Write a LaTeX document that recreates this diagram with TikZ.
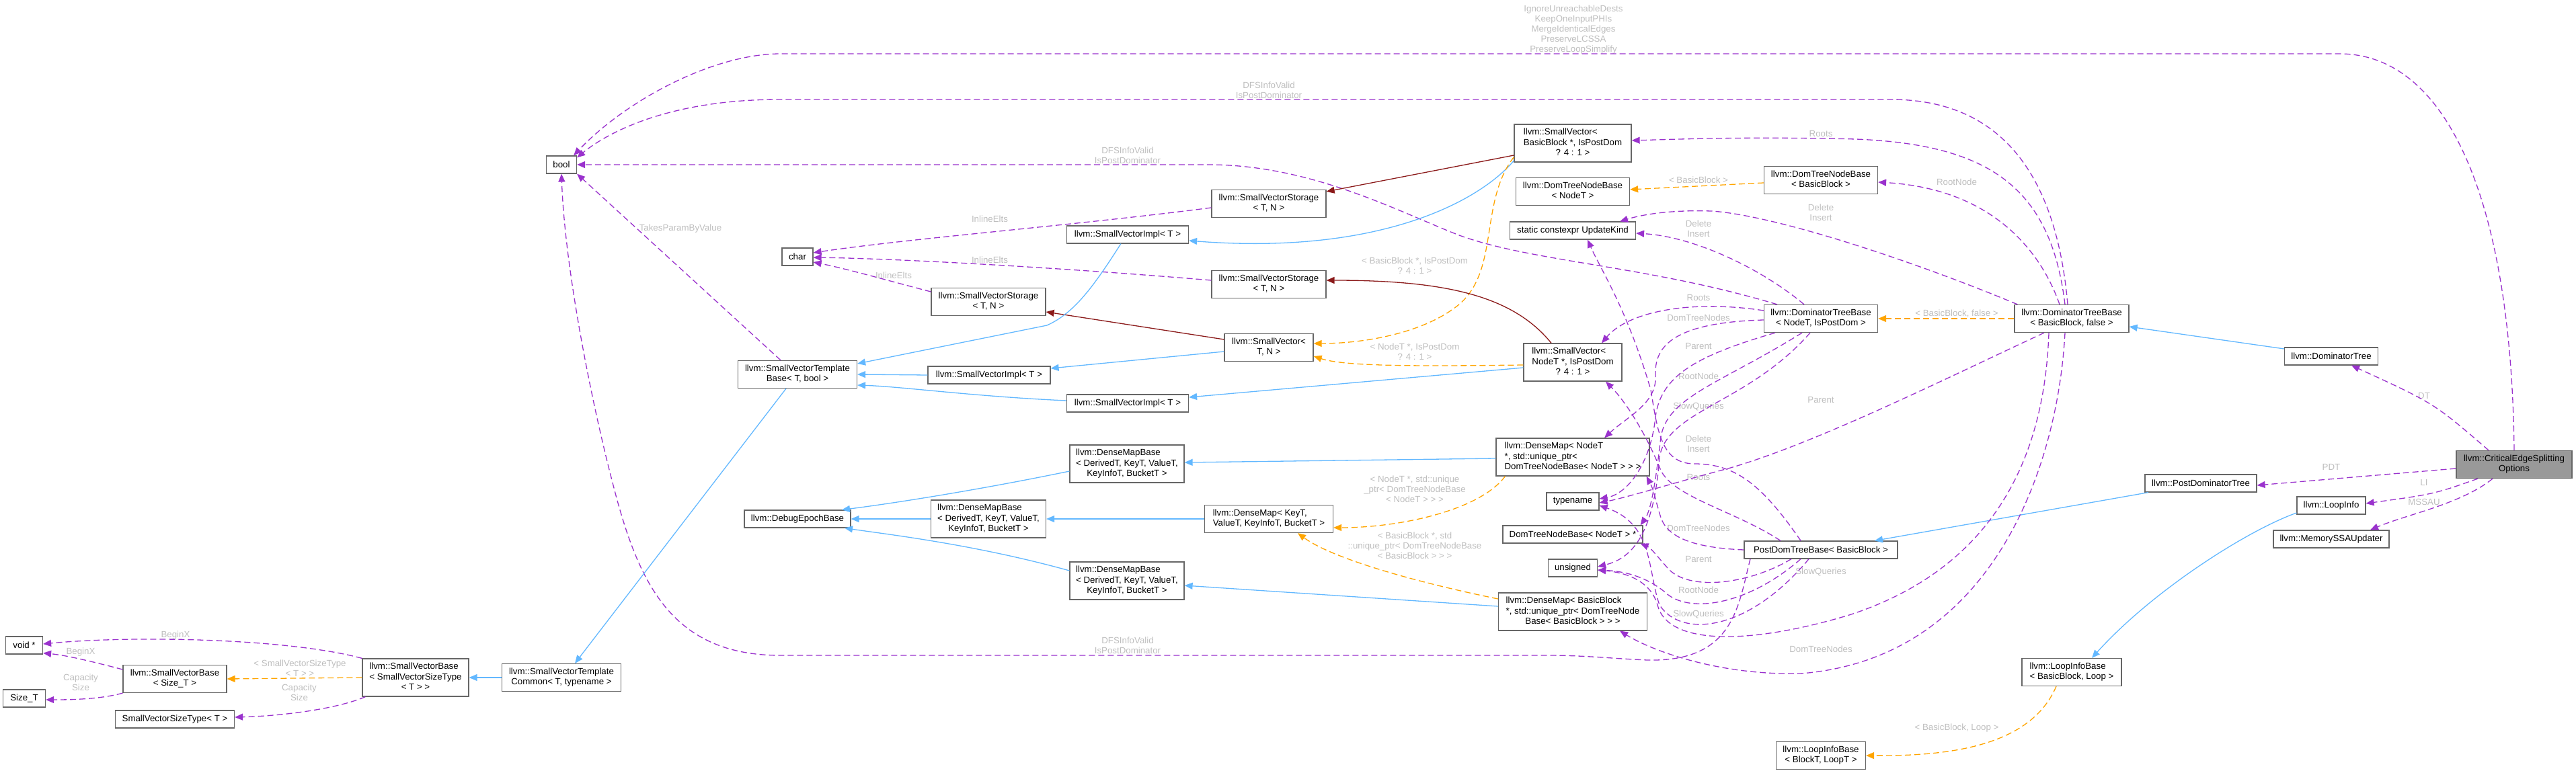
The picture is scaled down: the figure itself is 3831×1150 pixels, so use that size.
\documentclass[tikz,border=0pt]{standalone}
\usepackage{fontspec}
\setmainfont{Liberation Sans}
\usetikzlibrary{arrows.meta}
\definecolor{cuse}{HTML}{9A32CD}
\definecolor{ctmp}{HTML}{FFA500}
\definecolor{cinh}{HTML}{63B8FF}
\definecolor{cprv}{HTML}{8B1A1A}
\definecolor{clbl}{HTML}{BEBEBE}
\definecolor{cbrd}{HTML}{666666}
\definecolor{cfil}{HTML}{999999}
\newcommand{\dxl}[1]{\begin{tabular}{@{}l@{}}#1\end{tabular}}
\newcommand{\dxc}[1]{\multicolumn{1}{@{}c@{}}{#1}}
\newcommand{\mybox}[5]{\node[cls,minimum width=#3pt,minimum height=#4pt] (#1) at (#2) {#5};}
\newcommand{\mylbl}[3]{\node[lbl] (#1) at (#2) {#3};}
\tikzset{
  cls/.style={draw=cbrd, line width=1.2pt, fill=white, inner sep=0pt, font=\fontsize{13.3}{15.2}\selectfont},
  lbl/.style={text=clbl, align=center, inner sep=0pt, font=\fontsize{13.3}{15.2}\selectfont},
  usg/.style={draw=cuse, line width=1.3pt, dash pattern=on 9pt off 5pt, -{Triangle[length=12pt,width=10pt]}},
  tmpl/.style={draw=ctmp, line width=1.3pt, dash pattern=on 9pt off 5pt, -{Triangle[length=12pt,width=10pt]}},
  inh/.style={draw=cinh, line width=1.3pt, -{Triangle[length=12pt,width=10pt]}},
  prv/.style={draw=cprv, line width=1.3pt, -{Triangle[length=12pt,width=10pt]}}
}
\begin{document}
\begin{tikzpicture}[x=1pt,y=-1pt]
\useasboundingbox (0,0) rectangle (3831,1150);
% nodes
\mybox{bool}{835,245}{45}{26}{bool}
\mybox{char}{1186,382}{46}{26}{char}
\mybox{svtb}{1186,557}{177}{41}{\dxl{llvm::SmallVectorTemplate\\\dxc{Base< T, bool >}}}
\mybox{voidp}{36,960}{55}{26}{void *}
\mybox{sizet}{36,1039}{63}{26}{Size\_T}
\mybox{svbsz}{260,1010}{154}{41}{\dxl{llvm::SmallVectorBase\\\dxc{< Size\_T >}}}
\mybox{svst}{260,1070}{177}{26}{SmallVectorSizeType< T >}
\mybox{svbst}{618,1008}{158}{56}{\dxl{llvm::SmallVectorBase\\< SmallVectorSizeType\\\dxc{< T > >}}}
\mybox{svtc}{835,1008}{177}{41}{\dxl{llvm::SmallVectorTemplate\\\dxc{Common< T, typename >}}}
\mybox{deb}{1186,772}{158}{26}{llvm::DebugEpochBase}
\mybox{svbb}{2339,213}{174}{56}{\dxl{llvm::SmallVector<\\BasicBlock *, IsPostDom\\\dxc{? 4 : 1 >}}}
\mybox{dtnbnt}{2339,285}{169}{41}{\dxl{llvm::DomTreeNodeBase\\\dxc{< NodeT >}}}
\mybox{uk}{2339,343}{187}{26}{static constexpr UpdateKind}
\mybox{svsa}{1887,303}{170}{41}{\dxl{llvm::SmallVectorStorage\\\dxc{< T, N >}}}
\mybox{svia}{1677,349}{181}{26}{llvm::SmallVectorImpl< T >}
\mybox{svsb}{1887,423}{170}{41}{\dxl{llvm::SmallVectorStorage\\\dxc{< T, N >}}}
\mybox{svsc}{1470,449}{170}{41}{\dxl{llvm::SmallVectorStorage\\\dxc{< T, N >}}}
\mybox{svtn}{1887,517}{132}{41}{\dxl{llvm::SmallVector<\\\dxc{T, N >}}}
\mybox{svib}{1471,558}{182}{26}{llvm::SmallVectorImpl< T >}
\mybox{svic}{1677,600}{181}{26}{llvm::SmallVectorImpl< T >}
\mybox{svnt}{2339,539}{146}{56}{\dxl{llvm::SmallVector<\\\dxc{NodeT *, IsPostDom}\\\dxc{? 4 : 1 >}}}
\mybox{dmba}{1676,690}{170}{56}{\dxl{llvm::DenseMapBase\\< DerivedT, KeyT, ValueT,\\\dxc{KeyInfoT, BucketT >}}}
\mybox{dmbb}{1470,772}{171}{56}{\dxl{llvm::DenseMapBase\\< DerivedT, KeyT, ValueT,\\\dxc{KeyInfoT, BucketT >}}}
\mybox{dmbc}{1676,864}{170}{56}{\dxl{llvm::DenseMapBase\\< DerivedT, KeyT, ValueT,\\\dxc{KeyInfoT, BucketT >}}}
\mybox{dmk}{1887,772}{191}{41}{\dxl{llvm::DenseMap< KeyT,\\ValueT, KeyInfoT, BucketT >}}
\mybox{dmnt}{2339,680}{228}{56}{\dxl{llvm::DenseMap< NodeT\\{*}, std::unique\_ptr<\\DomTreeNodeBase< NodeT > > >}}
\mybox{tn}{2339,746}{78}{26}{typename}
\mybox{dtnbp}{2339,795}{208}{26}{DomTreeNodeBase< NodeT > *}
\mybox{uns}{2339,845}{73}{26}{unsigned}
\mybox{dmbbb}{2339,910}{221}{56}{\dxl{llvm::DenseMap< BasicBlock\\{*}, std::unique\_ptr< DomTreeNode\\\dxc{Base< BasicBlock > > >}}}
\mybox{dtnbbb}{2708,268}{169}{41}{\dxl{llvm::DomTreeNodeBase\\\dxc{< BasicBlock >}}}
\mybox{dtbnt}{2708,474}{169}{41}{\dxl{llvm::DominatorTreeBase\\\dxc{< NodeT, IsPostDom >}}}
\mybox{dtbbb}{3081,474}{170}{41}{\dxl{llvm::DominatorTreeBase\\\dxc{< BasicBlock, false >}}}
\mybox{dt}{3467,530}{139}{26}{llvm::DominatorTree}
\node[cls,fill=cfil,minimum width=172pt,minimum height=41pt] (ceso) at (3739,691) {\dxl{llvm::CriticalEdgeSplitting\\\dxc{Options}}};
\mybox{pdt}{3273,719}{166}{26}{llvm::PostDominatorTree}
\mybox{li}{3467,752}{102}{26}{llvm::LoopInfo}
\mybox{mssau}{3467,802}{172}{26}{llvm::MemorySSAUpdater}
\mybox{pdtb}{2708,818}{228}{26}{PostDomTreeBase< BasicBlock >}
\mybox{libb}{3081,1000}{148}{41}{\dxl{llvm::LoopInfoBase\\< BasicBlock, Loop >}}
\mybox{libt}{2708,1124}{133}{41}{\dxl{llvm::LoopInfoBase\\\dxc{< BlockT, LoopT >}}}
% labels
\mylbl{la}{2340,44}{IgnoreUnreachableDests\\KeepOneInputPHIs\\MergeIdenticalEdges\\PreserveLCSSA\\PreserveLoopSimplify}
\mylbl{lb}{1887,134}{DFSInfoValid\\IsPostDominator}
\mylbl{lc}{1677,231}{DFSInfoValid\\IsPostDominator}
\mylbl{ld}{1677,960}{DFSInfoValid\\IsPostDominator}
\mylbl{le}{1012,340}{TakesParamByValue}
\mylbl{lf}{1472,326}{InlineElts}
\mylbl{lg}{1472,387}{InlineElts}
\mylbl{lh}{1329,410}{InlineElts}
\mylbl{li9}{2104,395}{< BasicBlock *, IsPostDom\\? 4 : 1 >}
\mylbl{lj}{2104,523}{< NodeT *, IsPostDom\\? 4 : 1 >}
\mylbl{lk}{2104,728}{< NodeT *, std::unique\\\_ptr< DomTreeNodeBase\\< NodeT > > >}
\mylbl{ll}{2104,812}{< BasicBlock *, std\\::unique\_ptr< DomTreeNodeBase\\< BasicBlock > > >}
\mylbl{lm}{2526,268}{< BasicBlock >}
\mylbl{ln}{2526,340}{Delete\\Insert}
\mylbl{lo}{2526,443}{Roots}
\mylbl{lp}{2526,473}{DomTreeNodes}
\mylbl{lq}{2526,515}{Parent}
\mylbl{lr}{2526,560}{RootNode}
\mylbl{ls}{2526,605}{SlowQueries}
\mylbl{lt}{2526,660}{Delete\\Insert}
\mylbl{lu}{2526,710}{Roots}
\mylbl{lv}{2526,786}{DomTreeNodes}
\mylbl{lw}{2526,832}{Parent}
\mylbl{lx}{2526,878}{RootNode}
\mylbl{ly}{2526,914}{SlowQueries}
\mylbl{lz}{2708,199}{Roots}
\mylbl{lA}{2910,271}{RootNode}
\mylbl{lB}{2708,316}{Delete\\Insert}
\mylbl{lC}{2910,467}{< BasicBlock, false >}
\mylbl{lD}{2708,595}{Parent}
\mylbl{lE}{2708,851}{SlowQueries}
\mylbl{lF}{2708,966}{DomTreeNodes}
\mylbl{lG}{3605,589}{DT}
\mylbl{lH}{3467,695}{PDT}
\mylbl{lI}{3605,718}{LI}
\mylbl{lJ}{3605,747}{MSSAU}
\mylbl{lK}{2910,1083}{< BasicBlock, Loop >}
\mylbl{lL}{261,945}{BeginX}
\mylbl{lM}{120,970}{BeginX}
\mylbl{lN}{120,1015}{Capacity\\Size}
\mylbl{lO}{446,994}{< SmallVectorSizeType\\< T > >}
\mylbl{lP}{445,1030}{Capacity\\Size}
% CESO edges
\draw[usg] (ceso.north) .. controls (3735,300) and (3640,80) .. (3479,80) -- (1161,80) .. controls (1060,80) and (930,150) .. ([xshift=-5pt]bool.north east);
\draw[usg] ([xshift=-38pt]ceso.north) .. controls (3620,600) .. ([xshift=30pt]dt.south);
\draw[usg] ([yshift=-6pt]ceso.west) -- ([yshift=-3pt]pdt.east);
\draw[usg] ([xshift=-54pt]ceso.south) .. controls (3620,735) .. ([yshift=3pt]li.east);
\draw[usg] ([xshift=-32pt]ceso.south) .. controls (3660,750) and (3580,765) .. ([xshift=58pt]mssau.north);
% inheritance right
\draw[inh] ([yshift=11pt]dt.west) -- ([yshift=-12pt]dtbbb.east);
\draw[inh] ([xshift=-78pt]pdt.south) -- ([xshift=80pt]pdtb.north);
\draw[inh] ([yshift=-11pt]li.west) .. controls (3340,790) and (3200,880) .. ([xshift=30pt]libb.north);
\draw[tmpl] ([xshift=-23pt]libb.south) .. controls (3020,1110) and (2900,1125) .. (libt.east);
% DominatorTreeBase<BasicBlock,false>
\draw[tmpl] (dtbbb.west) -- (dtbnt.east);
\draw[usg] ([xshift=-6pt]dtbbb.north) .. controls (3060,280) and (2990,148) .. (2812,148) -- (1160,148) .. controls (990,148) and (900,200) .. ([yshift=-3pt]bool.north east);
\draw[usg] ([xshift=-10pt]dtbbb.north) .. controls (3050,280) and (2960,215) .. (2760,207) .. controls (2600,203) and (2500,207) .. ([yshift=4pt]svbb.east);
\draw[usg] ([xshift=-18pt]dtbbb.north) .. controls (3030,360) and (2950,280) .. ([yshift=-3pt]dtnbbb.east);
\draw[usg] ([xshift=5pt]dtbbb.north west) .. controls (2850,390) and (2640,320) .. (2545,314) .. controls (2480,312) and (2440,320) .. ([xshift=70pt]uk.north);
\draw[usg] ([xshift=-41pt]dtbbb.south) .. controls (2900,560) and (2700,660) .. (2570,697) .. controls (2490,718) and (2420,740) .. ([yshift=-2pt]tn.east);
\draw[usg] ([xshift=-34pt]dtbbb.south) .. controls (3040,700) and (2950,850) .. (2750,915) .. controls (2600,960) and (2480,960) .. (2465,900) .. controls (2455,865) and (2420,852) .. ([yshift=-3pt]uns.east);
\draw[usg] ([xshift=-10pt]dtbbb.south) .. controls (3060,700) and (2960,980) .. (2678,1002) .. controls (2560,1005) and (2460,970) .. ([xshift=70pt]dmbbb.south);
% DominatorTreeBase<NodeT,IsPostDom>
\draw[usg] ([xshift=-65pt]dtbnt.north) .. controls (2450,395) and (2280,390) .. (2170,350) .. controls (2080,315) and (1950,245) .. (1797,245) -- (bool.east);
\draw[usg] ([xshift=-25pt]dtbnt.north) .. controls (2620,400) and (2520,352) .. ([yshift=-4pt]uk.east);
\draw[usg] ([yshift=12pt]dtbnt.west) .. controls (2510,445) and (2420,465) .. ([xshift=43pt]svnt.north);
\draw[usg] ([yshift=-2pt]dtbnt.west) .. controls (2480,480) and (2460,520) .. (2462,560) .. controls (2464,600) and (2420,620) .. ([xshift=47pt]dmnt.north);
\draw[usg] ([xshift=-68pt]dtbnt.south) .. controls (2520,530) and (2470,560) .. (2462,620) .. controls (2455,690) and (2420,735) .. ([yshift=4pt]tn.east);
\draw[usg] ([xshift=-28pt]dtbnt.south) .. controls (2560,570) and (2480,590) .. (2470,650) .. controls (2462,720) and (2455,760) .. ([xshift=-4pt]dtnbp.north east);
\draw[usg] ([xshift=-16pt]dtbnt.south) .. controls (2600,600) and (2480,610) .. (2468,680) .. controls (2460,790) and (2430,830) .. ([yshift=2pt]uns.east);
% PostDomTreeBase
\draw[usg] ([xshift=-105pt]pdtb.south) .. controls (2585,900) and (2580,985) .. (2450,982) .. controls (2400,980) and (2360,975) .. (2300,975) -- (1161,975) .. controls (1000,975) and (950,870) .. (912,722) .. controls (880,600) and (840,400) .. (bool.south);
\draw[usg] ([xshift=-30pt]pdtb.north) .. controls (2620,720) and (2580,690) .. (2520,690) .. controls (2470,690) and (2465,640) .. (2455,580) .. controls (2420,460) and (2380,400) .. ([xshift=22pt]uk.south);
\draw[usg] ([xshift=-60pt]pdtb.north) .. controls (2580,760) and (2490,740) .. (2470,700) .. controls (2450,650) and (2420,600) .. ([xshift=49pt]svnt.south);
\draw[usg] (pdtb.west) .. controls (2520,815) and (2480,800) .. (2470,770) .. controls (2462,745) and (2460,730) .. ([xshift=-5pt]dmnt.south east);
\draw[usg] ([xshift=-44pt]pdtb.south) .. controls (2600,870) and (2510,880) .. (2480,845) .. controls (2465,828) and (2455,815) .. ([xshift=-4pt]dtnbp.south east);
\draw[usg] ([xshift=-30pt]pdtb.south) .. controls (2600,900) and (2510,915) .. (2475,880) .. controls (2450,860) and (2420,850) .. ([yshift=-3pt]uns.east);
\draw[usg] ([xshift=-18pt]pdtb.south) .. controls (2600,940) and (2500,950) .. (2468,900) .. controls (2450,850) and (2460,780) .. ([yshift=-6pt]tn.east);
% SmallVector family
\draw[prv] ([yshift=-18pt]svbb.west) -- ([yshift=18pt]svsa.east);
\draw[inh] ([yshift=-26pt]svbb.west) .. controls (2200,300) and (2050,380) .. ([yshift=-9pt]svia.east);
\draw[tmpl] ([yshift=8pt]svbb.south west) .. controls (2200,300) and (2230,400) .. (2171,452) .. controls (2120,495) and (2030,511) .. ([yshift=6pt]svtn.east);
\draw[prv] ([xshift=-32pt]svnt.north) .. controls (2250,440) and (2150,417) .. ([yshift=6pt]svsb.east);
\draw[tmpl] ([yshift=-4pt]svnt.west) .. controls (2100,545) and (2000,545) .. ([yshift=-13pt]svtn.east);
\draw[inh] ([yshift=-8pt]svnt.west) -- ([yshift=9pt]svic.east);
\draw[prv] ([yshift=12pt]svtn.west) -- ([yshift=-15pt]svsc.east);
\draw[inh] ([yshift=-6pt]svtn.west) -- ([yshift=10pt]svib.east);
\draw[usg] ([yshift=-6pt]svsa.west) .. controls (1600,335) and (1350,355) .. ([yshift=6pt]char.east);
\draw[usg] ([yshift=6pt]svsb.west) .. controls (1600,400) and (1350,385) .. ([yshift=-1pt]char.east);
\draw[usg] ([yshift=15pt]svsc.west) .. controls (1330,420) and (1260,400) .. ([yshift=-8pt]char.east);
\draw[inh] ([xshift=-10pt]svia.south) .. controls (1630,420) and (1600,465) .. (1557,484) -- ([yshift=16pt]svtb.east);
\draw[inh] (svib.west) -- (svtb.east);
\draw[inh] ([yshift=4pt]svic.west) .. controls (1450,590) and (1340,575) .. ([yshift=-16pt]svtb.east);
\draw[usg] ([xshift=-25pt]svtb.north) -- (bool.south east);
\draw[inh] ([xshift=-17pt]svtb.south) -- ([xshift=20pt]svtc.north);
\draw[inh] (svtc.west) -- (svbst.east);
\draw[tmpl] (svbst.west) -- (svbsz.east);
\draw[usg] (svbst.north west) .. controls (430,950) and (200,945) .. ([yshift=2pt]voidp.east);
\draw[usg] ([yshift=14pt]svbsz.west) .. controls (140,985) and (100,975) .. ([yshift=2pt]voidp.south east);
\draw[usg] (svbsz.south west) .. controls (150,1040) and (110,1041) .. ([yshift=-2pt]sizet.east);
\draw[usg] ([xshift=5pt]svbst.south west) .. controls (500,1055) and (420,1065) .. ([yshift=3pt]svst.east);
% DomTreeNodeBase / DenseMap
\draw[tmpl] ([yshift=-4pt]dtnbbb.west) -- ([yshift=3pt]dtnbnt.east);
\draw[inh] ([yshift=-2pt]dmnt.west) -- ([yshift=2pt]dmba.east);
\draw[tmpl] ([xshift=14pt]dmnt.south west) .. controls (2200,760) and (2080,785) .. ([yshift=-13pt]dmk.east);
\draw[inh] ([yshift=8pt]dmbbb.west) -- ([yshift=-7pt]dmbc.east);
\draw[tmpl] ([yshift=19pt]dmbbb.west) .. controls (2100,865) and (1980,830) .. ([xshift=43pt]dmk.south);
\draw[inh] (dmk.west) -- (dmbb.east);
\draw[inh] ([yshift=-11pt]dmba.west) .. controls (1450,730) and (1320,750) .. ([xshift=66pt]deb.north);
\draw[inh] (dmbb.west) -- (deb.east);
\draw[inh] ([yshift=15pt]dmbc.west) .. controls (1450,810) and (1320,795) .. ([xshift=70pt]deb.south);
\end{tikzpicture}
\end{document}
